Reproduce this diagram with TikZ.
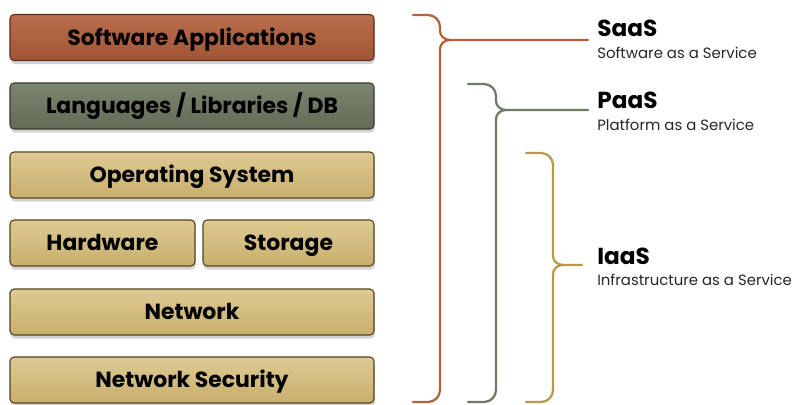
\documentclass[tikz,border=0pt]{standalone}
\usepackage{fontspec}
\setmainfont{Poppins}
\usetikzlibrary{positioning,shadows,calc}

\definecolor{saasc}{HTML}{B5613D}
\definecolor{paasc}{HTML}{6F7A62}
\definecolor{iaasc}{HTML}{B9994A}
\definecolor{goldtop}{HTML}{DDCA92}
\definecolor{goldbot}{HTML}{C8AE6E}

\tikzset{
    layer/.style={rounded corners=3pt, line width=0.8pt, minimum height=1.15cm,
        inner sep=0pt, text height=11pt, text depth=0pt,
        font=\fontsize{15.6}{18}\selectfont\bfseries,
        drop shadow={shadow xshift=0.5pt, shadow yshift=-2.5pt, opacity=0.35}},
    saaslayer/.style={layer, draw=saasc!50!black, top color=saasc!92!white, bottom color=saasc!88!black},
    paaslayer/.style={layer, draw=paasc!50!black, top color=paasc!92!white, bottom color=paasc!88!black},
    iaaslayer/.style={layer, draw=iaasc!45!black, top color=goldtop, bottom color=goldbot},
    brace/.style={line width=1.6pt, line cap=round},
    tag/.style={anchor=base west, inner sep=0pt, font=\fontsize{16.5}{18}\selectfont\bfseries},
    subtag/.style={anchor=base west, inner sep=0pt, font=\fontsize{10.6}{12}\selectfont, text=black!85},
}

\begin{document}
\begin{tikzpicture}[x=0.025cm, y=-0.025cm]
    \useasboundingbox (0,0) rectangle (796,405);

    % --- Stack of layers ---
    \node[saaslayer, minimum width=9.1cm] (apps) at (192,37.5) {Software Applications};
    \node[paaslayer, minimum width=9.1cm] (langs) at (192,106) {Languages / Libraries / DB};
    \node[iaaslayer, minimum width=9.1cm] (os) at (192,175) {Operating System};
    \node[iaaslayer, minimum width=4.625cm] (hw) at (102.5,243) {Hardware};
    \node[iaaslayer, minimum width=4.275cm] (store) at (288.5,243) {Storage};
    \node[iaaslayer, minimum width=9.1cm] (net) at (192,312) {Network};
    \node[iaaslayer, minimum width=9.1cm] (netsec) at (192,380) {Network Security};

    % --- Service labels ---
    \node[tag] (saas) at (597,37) {SaaS};
    \node[subtag] (saassub) at (597,59) {Software as a Service};
    \node[tag] (paas) at (597,109) {PaaS};
    \node[subtag] (paassub) at (597,131) {Platform as a Service};
    \node[tag] (iaas) at (597,265) {IaaS};
    \node[subtag] (iaassub) at (597,286) {Infrastructure as a Service};

    % --- Brace tips ---
    \coordinate (saastip) at (588,40);
    \coordinate (paastip) at (588,110);
    \coordinate (iaastip) at (582,265);

    % --- SaaS brace (all layers) ---
    \draw[brace, saasc] (413,15) -- (428,15) to[out=0,in=90] (440,27) -- (440,31)
        to[out=-90,in=180] (450,40) -- (saastip);
    \draw[brace, saasc] (450,40) to[out=180,in=90] (440,49) -- (440,390)
        to[out=-90,in=0] (428,402) -- (413,402);

    % --- PaaS brace ---
    \draw[brace, paasc] (468,84) -- (484,84) to[out=0,in=90] (496,96) -- (496,101)
        to[out=-90,in=180] (506,110) -- (paastip);
    \draw[brace, paasc] (506,110) to[out=180,in=90] (496,119) -- (496,390)
        to[out=-90,in=0] (484,402) -- (468,402);

    % --- IaaS brace ---
    \draw[brace, iaasc] (526,153) -- (541,153) to[out=0,in=90] (553,165) -- (553,256)
        to[out=-90,in=180] (563,265) -- (iaastip);
    \draw[brace, iaasc] (563,265) to[out=180,in=90] (553,274) -- (553,390)
        to[out=-90,in=0] (541,402) -- (526,402);
\end{tikzpicture}
\end{document}
